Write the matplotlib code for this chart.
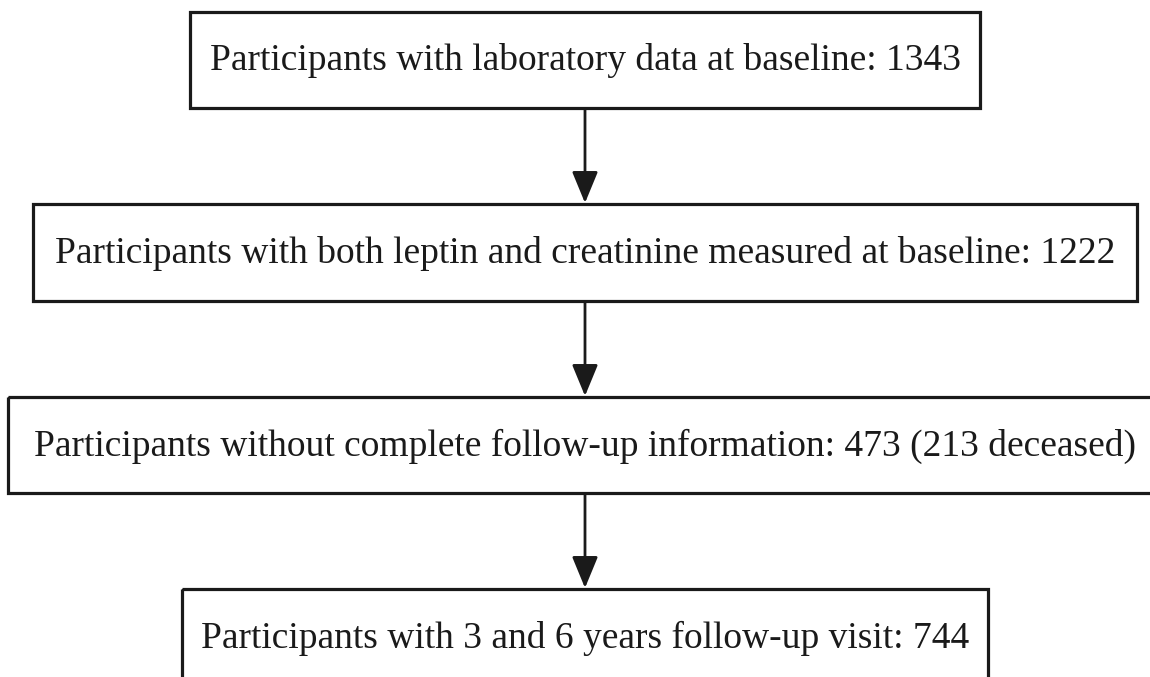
import matplotlib.pyplot as plt
from matplotlib.patches import Rectangle

# flowchart steps
labels = [
    "Participants with laboratory data at baseline: 1343",
    "Participants with both leptin and creatinine measured at baseline: 1222",
    "Participants without complete follow-up information: 473 (213 deceased)",
    "Participants with 3 and 6 years follow-up visit: 744",
]

# layout in pixels (left, top, right, bottom)
boxes = [
    (190, 12, 980, 108),
    (33, 204, 1137, 301),
    (8, 397, 1162, 493),
    (182, 589, 988, 685),
]
cx = 585

plt.rcParams['font.family'] = ['Liberation Serif', 'DejaVu Serif']

fig = plt.figure(figsize=(11.5, 6.77), dpi=100)
ax = fig.add_axes([0, 0, 1, 1])
ax.set_xlim(0, 1150)
ax.set_ylim(677, 0)
ax.axis('off')

for (l, t, r, b), lab in zip(boxes, labels):
    ax.add_patch(Rectangle((l, t), r - l, b - t, fill=False, ec='#1a1a1a', lw=2.3))
    ax.text(cx, (t + b) / 2 + 10.5, lab, ha='center', va='baseline',
            fontsize=27, color='#1a1a1a')

for i in range(len(boxes) - 1):
    y0 = boxes[i][3]
    y1 = boxes[i + 1][1]
    ax.annotate('', xy=(cx, y1 - 1), xytext=(cx, y0 + 1),
                arrowprops=dict(arrowstyle='-|>,head_length=0.97,head_width=0.4',
                                color='#1a1a1a', lw=2, shrinkA=0, shrinkB=0,
                                mutation_scale=20))

fig.savefig('out.png', dpi=100)
